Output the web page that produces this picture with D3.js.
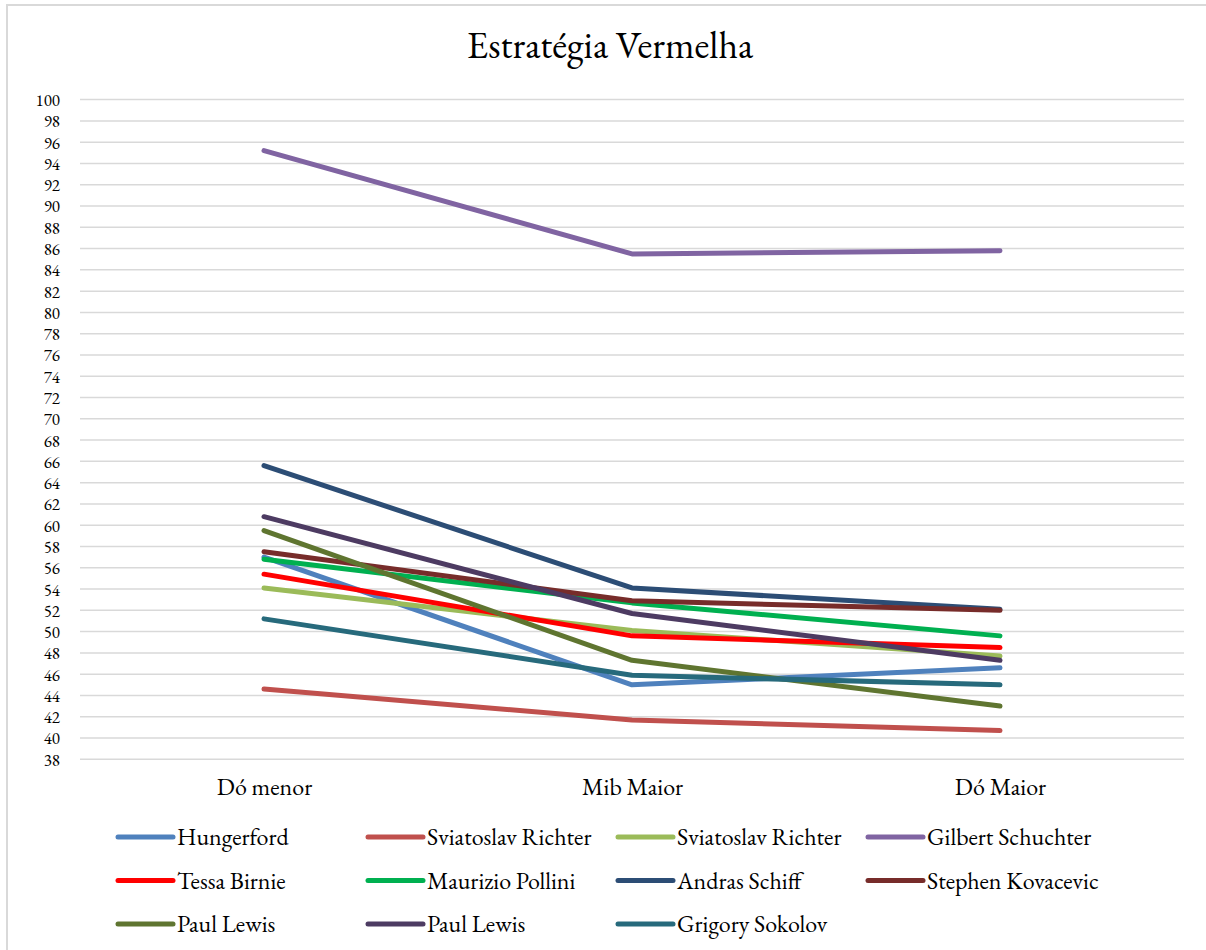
<!DOCTYPE html>
<html>
<head>
<meta charset="utf-8">
<script src="https://cdn.jsdelivr.net/npm/d3@7/dist/d3.min.js"></script>
<style>
  html, body { margin: 0; padding: 0; background: #fff; }
  svg { display: block; }
  text { font-family: "EB Garamond", Garamond, "Liberation Serif", serif; fill: #000; }
</style>
</head>
<body>
<svg id="chart" width="1206" height="950"></svg>
<script>
// Pieces and performers
const categories = ["Dó menor", "Mib Maior", "Dó Maior"];
const seriesNames = [
  "Hungerford", "Sviatoslav Richter", "Sviatoslav Richter", "Gilbert Schuchter",
  "Tessa Birnie", "Maurizio Pollini", "Andras Schiff", "Stephen Kovacevic",
  "Paul Lewis", "Paul Lewis", "Grigory Sokolov"
];
const seriesColors = [
  "#4F81BD", "#C0504D", "#9BBB59", "#8064A2",
  "#FF0000", "#00B050", "#2C4D75", "#772C2A",
  "#5F7530", "#4D3B62", "#276A7C"
];

// Values per performer, one per piece
const hungerford   = [57.0, 45.0, 46.6];
const richterA     = [44.6, 41.7, 40.7];
const richterB     = [54.1, 50.1, 47.7];
const schuchter    = [95.2, 85.5, 85.8];
const birnie       = [55.4, 49.6, 48.5];
const pollini      = [56.8, 52.7, 49.6];
const schiff       = [65.6, 54.1, 52.1];
const kovacevic    = [57.5, 52.9, 52.0];
const lewisA       = [59.5, 47.3, 43.0];
const lewisB       = [60.8, 51.7, 47.3];
const sokolov      = [51.2, 45.9, 45.0];

const seriesValues = [hungerford, richterA, richterB, schuchter, birnie, pollini,
                      schiff, kovacevic, lewisA, lewisB, sokolov];

const yTicks = d3.range(38, 101, 2);

const fontStack = "\"EB Garamond\", Garamond, \"Liberation Serif\", serif";
const svg = d3.select("#chart");

// Outer chart frame
svg.append("rect")
  .attr("x", 7).attr("y", 5)
  .attr("width", 1220).attr("height", 980)
  .attr("fill", "none")
  .attr("stroke", "#D9D9D9")
  .attr("stroke-width", 2);

// Title
svg.append("text")
  .attr("x", 610).attr("y", 58)
  .attr("text-anchor", "middle")
  .style("font-size", "38px")
  .text("Estratégia Vermelha");

const plotLeft = 80, plotRight = 1184;
const x = d3.scalePoint().domain(categories).range([plotLeft, plotRight]).padding(0.5);
const y = d3.scaleLinear().domain([38, 100]).range([759.3, 99.6]);

// Horizontal gridlines
svg.append("g")
  .selectAll("line")
  .data(yTicks)
  .join("line")
  .attr("x1", plotLeft).attr("x2", plotRight)
  .attr("y1", d => y(d)).attr("y2", d => y(d))
  .attr("stroke", "#D9D9D9")
  .attr("stroke-width", 1.5);

// Y axis labels
const yAxis = d3.axisLeft(y).tickValues(yTicks).tickSize(0).tickPadding(0);
const gy = svg.append("g").attr("transform", "translate(60,0)").call(yAxis);
gy.select(".domain").remove();
gy.selectAll("text")
  .style("font-size", "17px")
  .style("font-family", fontStack)
  .attr("fill", "#000")
  .attr("dy", "0.35em");

// X axis labels
const xAxis = d3.axisBottom(x).tickSize(0).tickPadding(0);
const gx = svg.append("g").attr("transform", "translate(0,795)").call(xAxis);
gx.select(".domain").remove();
gx.selectAll("text")
  .style("font-size", "24px")
  .style("font-family", fontStack)
  .attr("fill", "#000")
  .attr("y", 0).attr("dy", 0);

// Series lines
const line = d3.line()
  .x((d, i) => x(categories[i]))
  .y(d => y(d));

svg.append("g")
  .selectAll("path")
  .data(seriesValues)
  .join("path")
  .attr("d", d => line(d))
  .attr("fill", "none")
  .attr("stroke", (d, i) => seriesColors[i])
  .attr("stroke-width", 5)
  .attr("stroke-linecap", "round")
  .attr("stroke-linejoin", "round");

// Legend: four columns, three rows
const legend = svg.append("g");
const items = legend.selectAll("g")
  .data(seriesNames)
  .join("g")
  .attr("transform", (d, i) => `translate(${118 + (i % 4) * 250},${837 + Math.floor(i / 4) * 43.5})`);
items.append("line")
  .attr("x1", 0).attr("x2", 55)
  .attr("y1", 0).attr("y2", 0)
  .attr("stroke", (d, i) => seriesColors[i])
  .attr("stroke-width", 5)
  .attr("stroke-linecap", "round");
items.append("text")
  .attr("x", 59).attr("y", 0)
  .attr("dy", "0.35em")
  .style("font-size", "24px")
  .text(d => d);
</script>
</body>
</html>
